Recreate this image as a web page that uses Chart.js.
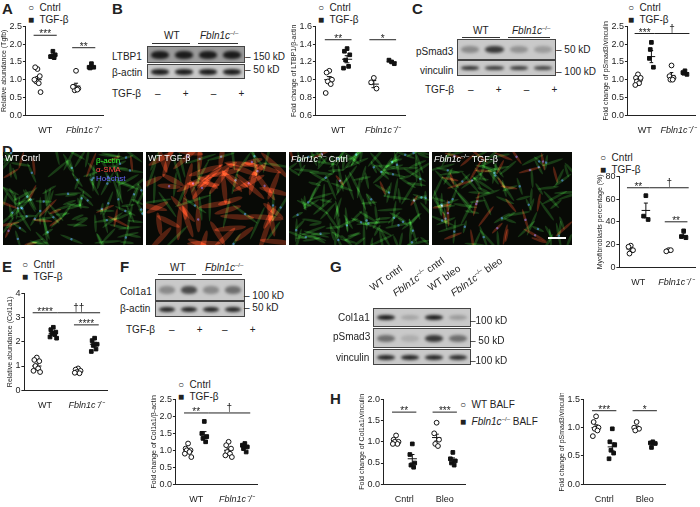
<!DOCTYPE html>
<html><head><meta charset="utf-8">
<script src="https://cdn.jsdelivr.net/npm/chart.js@4"></script>
<style>
body{margin:0;width:700px;height:507px;position:relative;background:#fff;font-family:"Liberation Sans",Arial,sans-serif;overflow:hidden;color:#222}
.a{position:absolute;white-space:nowrap}
.lab{font-weight:bold;font-size:15px}
.t{font-size:10px}
.lg{font-size:10px;line-height:12px}
.blot{position:absolute;border:1px solid #444;background:#c9c9c9;overflow:hidden}
.band{position:absolute;border-radius:45%;filter:blur(1.5px)}
.img{position:absolute;background:#0b0f08;overflow:hidden}
.wrap{position:absolute}
i{font-style:italic}
</style></head><body>
<script>
// ---------- DATA ----------
const xLabelsGeno = ["WT","Fbln1c⁻/⁻"];
const xLabelsTx = ["Cntrl","Bleo"];
// A: Tgfb relative abundance
const aWTc=[1.3,1.35,1.1,0.95,0.9,1.0,0.65], aWTt=[1.8,1.65,1.7,1.65,1.62];
const aKOc=[1.25,0.8,0.75,0.7,0.72,0.8], aKOt=[1.45,1.35,1.35,1.33];
const aMean=[1.0,1.68,0.82,1.36], aSem=[0.09,0.04,0.08,0.03];
// B: LTBP1/β-actin
const bWTc=[1.1,1.08,1.0,0.98,0.95,0.85], bWTt=[1.35,1.32,1.28,1.22,1.15,1.13];
const bKOc=[1.02,0.97,0.9], bKOt=[1.2,1.22,1.18];
const bMean=[1.0,1.23,0.95,1.2], bSem=[0.035,0.04,0.04,0.01];
// C: pSmad3/vinculin
const cWTc=[1.15,1.05,1.0,0.95,0.9,0.85,1.05], cWTt=[2.05,1.6,1.35,1.85];
const cKOc=[1.4,1.1,1.05,1.0,1.0], cKOt=[1.25,1.2,1.15,1.18];
const cMean=[1.0,1.65,1.12,1.2], cSem=[0.04,0.17,0.08,0.03];
// D: Myofibroblasts %
const dWTc=[19,18,15,12], dWTt=[63,45,42];
const dKOc=[15,14,15], dKOt=[32,27,26];
const dMean=[16,50,15,28], dSem=[1.5,6.5,0.4,2];
// E: Col1a1 relative abundance
const eWTc=[1.35,1.25,1.2,1.0,0.9,0.8,0.75], eWTt=[2.6,2.5,2.4,2.35,2.3,2.2,2.15];
const eKOc=[0.9,0.85,0.8,0.75,0.7,0.72], eKOt=[2.15,2.05,1.9,1.85,1.7,1.6];
const eMean=[1.0,2.35,0.78,1.9], eSem=[0.08,0.06,0.03,0.08];
// F: Col1a1/β-actin
const fWTc=[1.2,1.05,1.0,1.0,0.95,0.9,0.8], fWTt=[1.85,1.5,1.4,1.35,1.25];
const fKOc=[1.25,1.15,1.05,0.95,0.9,0.85,0.8], fKOt=[1.2,1.15,1.1,1.05,0.95];
const fMean=[1.0,1.45,1.0,1.1], fSem=[0.05,0.1,0.06,0.04];
// H1: Col1a1/vinculin
const h1WTc=[1.15,1.05,1.0,1.0,0.95,0.95], h1KOc=[0.95,0.7,0.5,0.45,0.4];
const h1WTb=[1.45,1.2,1.05,0.95,0.9], h1KOb=[0.75,0.6,0.55,0.5,0.45];
const h1Mean=[1.0,0.6,1.1,0.57], h1Sem=[0.03,0.1,0.08,0.05];
// H2: pSmad3/vinculin
const h2WTc=[1.2,1.1,1.0,0.98,0.95,0.85], h2KOc=[0.98,0.75,0.7,0.6,0.55,0.45];
const h2WTb=[1.1,1.0,0.98,0.95], h2KOb=[0.75,0.73,0.72,0.65];
const h2Mean=[1.0,0.66,1.0,0.72], h2Sem=[0.05,0.07,0.03,0.02];
</script>

<div class="a lab" style="left:2px;top:0px">A</div>
<div class="a lab" style="left:112px;top:0px">B</div>
<div class="a lab" style="left:412px;top:0px">C</div>
<div class="a lab" style="left:2px;top:142px">D</div>
<div class="a lab" style="left:2px;top:258px">E</div>
<div class="a lab" style="left:120px;top:258px">F</div>
<div class="a lab" style="left:330px;top:258px">G</div>
<div class="a lab" style="left:330px;top:390px">H</div>

<div class="a lg" style="left:28px;top:2px">○&nbsp; Cntrl<br>■&nbsp; TGF-β</div>
<div class="a lg" style="left:318px;top:2px">○&nbsp; Cntrl<br>■&nbsp; TGF-β</div>
<div class="a lg" style="left:628px;top:2px">○&nbsp; Cntrl<br>■&nbsp; TGF-β</div>
<div class="a lg" style="left:600px;top:152px">○&nbsp; Cntrl<br>■&nbsp; TGF-β</div>
<div class="a lg" style="left:22px;top:259px">○&nbsp; Cntrl<br>■&nbsp; TGF-β</div>
<div class="a lg" style="left:178px;top:379px">○&nbsp; Cntrl<br>■&nbsp; TGF-β</div>
<div class="a lg" style="left:460px;top:398px;line-height:14px">○&nbsp; WT BALF<br>■&nbsp; <i>Fbln1c</i><sup style="font-size:6px">–/–</sup> BALF</div>

<!-- B blot -->
<div class="a t" style="left:164px;top:30px">WT</div><div class="a" style="left:152px;top:43px;width:38px;border-top:1px solid #333"></div>
<div class="a t" style="left:200px;top:30px"><i>Fbln1c</i><sup style="font-size:6px">–/–</sup></div><div class="a" style="left:198px;top:43px;width:40px;border-top:1px solid #333"></div>
<div class="a t" style="left:112px;top:51px">LTBP1</div>
<div class="a t" style="left:112px;top:67px">β-actin</div>
<div class="blot" style="left:147px;top:46px;width:96px;height:15px;background:#9a9a9a" id="b1"></div>
<div class="blot" style="left:147px;top:64px;width:96px;height:13px" id="b2"></div>
<div class="a t" style="left:245px;top:51px">– 150 kD</div>
<div class="a t" style="left:245px;top:64px">– 50 kD</div>
<div class="a t" style="left:112px;top:88px">TGF-β&nbsp;&nbsp;&nbsp;&nbsp; –&nbsp;&nbsp;&nbsp;&nbsp;&nbsp;&nbsp;&nbsp; +&nbsp;&nbsp;&nbsp;&nbsp;&nbsp;&nbsp;&nbsp; –&nbsp;&nbsp;&nbsp;&nbsp;&nbsp;&nbsp;&nbsp; +</div>

<!-- C blot -->
<div class="a t" style="left:473px;top:25px">WT</div><div class="a" style="left:462px;top:37px;width:38px;border-top:1px solid #333"></div>
<div class="a t" style="left:512px;top:25px"><i>Fbln1c</i><sup style="font-size:6px">–/–</sup></div><div class="a" style="left:508px;top:37px;width:42px;border-top:1px solid #333"></div>
<div class="a t" style="left:416px;top:46px">pSmad3</div>
<div class="a t" style="left:420px;top:65px">vinculin</div>
<div class="blot" style="left:457px;top:39px;width:97px;height:19px" id="c1"></div>
<div class="blot" style="left:457px;top:60px;width:97px;height:14px" id="c2"></div>
<div class="a t" style="left:556px;top:44px">– 50 kD</div>
<div class="a t" style="left:556px;top:66px">– 100 kD</div>
<div class="a t" style="left:425px;top:84px">TGF-β&nbsp;&nbsp;&nbsp;&nbsp; –&nbsp;&nbsp;&nbsp;&nbsp;&nbsp;&nbsp;&nbsp; +&nbsp;&nbsp;&nbsp;&nbsp;&nbsp;&nbsp;&nbsp; –&nbsp;&nbsp;&nbsp;&nbsp;&nbsp;&nbsp;&nbsp; +</div>

<!-- D images -->
<canvas class="img" style="left:3px;top:152px" width="140" height="93" id="im0"></canvas>
<canvas class="img" style="left:146px;top:152px" width="140" height="93" id="im1"></canvas>
<canvas class="img" style="left:289px;top:152px" width="140" height="93" id="im2"></canvas>
<canvas class="img" style="left:432px;top:152px" width="140" height="93" id="im3"></canvas>
<div class="a" style="left:5px;top:153px;font-size:9px;color:#fff">WT Cntrl</div>
<div class="a" style="left:96px;top:156px;font-size:8px;color:#3f3;line-height:9px">β-actin<br><span style="color:#f44">α-SMA</span><br><span style="color:#66f">Hoechst</span></div>
<div class="a" style="left:148px;top:153px;font-size:9px;color:#fff">WT TGF-β</div>
<div class="a" style="left:291px;top:153px;font-size:9px;color:#fff"><i>Fbln1c</i><sup style="font-size:6px">–/–</sup> Cntrl</div>
<div class="a" style="left:434px;top:153px;font-size:9px;color:#fff"><i>Fbln1c</i><sup style="font-size:6px">–/–</sup> TGF-β</div>
<div class="a" style="left:548px;top:237px;width:18px;border-top:2px solid #fff"></div>

<!-- F blot -->
<div class="a t" style="left:170px;top:262px">WT</div><div class="a" style="left:158px;top:274px;width:38px;border-top:1px solid #333"></div>
<div class="a t" style="left:205px;top:262px"><i>Fbln1c</i><sup style="font-size:6px">–/–</sup></div><div class="a" style="left:202px;top:274px;width:40px;border-top:1px solid #333"></div>
<div class="a t" style="left:120px;top:286px">Col1a1</div>
<div class="a t" style="left:120px;top:303px">β-actin</div>
<div class="blot" style="left:155px;top:279px;width:88px;height:20px" id="f1"></div>
<div class="blot" style="left:155px;top:301px;width:88px;height:14px" id="f2"></div>
<div class="a t" style="left:244px;top:290px">– 100 kD</div>
<div class="a t" style="left:244px;top:302px">– 50 kD</div>
<div class="a t" style="left:126px;top:324px">TGF-β&nbsp;&nbsp;&nbsp;&nbsp; –&nbsp;&nbsp;&nbsp;&nbsp;&nbsp;&nbsp;&nbsp; +&nbsp;&nbsp;&nbsp;&nbsp;&nbsp;&nbsp; –&nbsp;&nbsp;&nbsp;&nbsp;&nbsp;&nbsp;&nbsp; +</div>

<!-- G blot -->
<div class="a t" style="left:374px;top:282px;transform:rotate(-35deg);transform-origin:left bottom">WT cntrl</div>
<div class="a t" style="left:397px;top:287px;transform:rotate(-35deg);transform-origin:left bottom"><i>Fbln1c</i><sup style="font-size:6px">–/–</sup> cntrl</div>
<div class="a t" style="left:432px;top:282px;transform:rotate(-35deg);transform-origin:left bottom">WT bleo</div>
<div class="a t" style="left:455px;top:287px;transform:rotate(-35deg);transform-origin:left bottom"><i>Fbln1c</i><sup style="font-size:6px">–/–</sup> bleo</div>
<div class="a t" style="left:338px;top:312px">Col1a1</div>
<div class="a t" style="left:333px;top:331px">pSmad3</div>
<div class="a t" style="left:336px;top:352px">vinculin</div>
<div class="blot" style="left:373px;top:308px;width:96px;height:17px" id="g1"></div>
<div class="blot" style="left:373px;top:328px;width:96px;height:18px" id="g2"></div>
<div class="blot" style="left:373px;top:349px;width:96px;height:14px" id="g3"></div>
<div class="a t" style="left:470px;top:315px">–100 kD</div>
<div class="a t" style="left:470px;top:335px">– 50 kD</div>
<div class="a t" style="left:470px;top:355px">–100 kD</div>

<div class="wrap" style="left:0;top:20px;width:108px;height:118px"><canvas id="cA"></canvas></div>
<div class="wrap" style="left:290px;top:20px;width:120px;height:118px"><canvas id="cB"></canvas></div>
<div class="wrap" style="left:602px;top:20px;width:98px;height:118px"><canvas id="cC"></canvas></div>
<div class="wrap" style="left:596px;top:170px;width:104px;height:120px"><canvas id="cD"></canvas></div>
<div class="wrap" style="left:6px;top:287px;width:106px;height:126px"><canvas id="cE"></canvas></div>
<div class="wrap" style="left:150px;top:393px;width:112px;height:114px"><canvas id="cF"></canvas></div>
<div class="wrap" style="left:358px;top:393px;width:112px;height:114px"><canvas id="cH1"></canvas></div>
<div class="wrap" style="left:558px;top:393px;width:112px;height:114px"><canvas id="cH2"></canvas></div>

<script>
function bands(id, intens, h){
  const el=document.getElementById(id); const w=el.clientWidth;
  intens.forEach((v,i)=>{const b=document.createElement('div');b.className='band';
    b.style.left=(i*w/4+3)+'px';b.style.width=(w/4-6)+'px';b.style.top=((el.clientHeight-h)/2)+'px';b.style.height=h+'px';
    b.style.background='rgba(20,20,20,'+v+')';el.appendChild(b);});
}
bands('b1',[0.95,0.95,0.95,0.95],8);bands('b2',[0.95,0.95,0.95,0.95],6);
bands('c1',[0.35,0.8,0.3,0.25],7);bands('c2',[0.85,0.8,0.8,0.75],4);
bands('f1',[0.35,0.7,0.35,0.5],8);bands('f2',[0.9,0.9,0.9,0.9],5);
bands('g1',[0.95,0.2,0.95,0.25],5);bands('g2',[0.5,0.15,0.8,0.5],7);bands('g3',[0.9,0.9,0.9,0.85],5);
function h(n){const s=Math.sin(n*127.1+311.7)*43758.5453;return s-Math.floor(s);}
const redFrac=[0.1,0.55,0.06,0.3], cnt=[150,95,170,130];
[0,1,2,3].forEach(k=>{const c=document.getElementById('im'+k).getContext('2d');
  c.fillStyle='#080a06';c.fillRect(0,0,140,93);c.globalCompositeOperation='lighter';
  for(let i=0;i<cnt[k];i++){const s=k*1000+i;const x=h(s)*140,y=h(s+.3)*93,a=h(s+.6)*Math.PI,L=(k===1?11:6)+h(s+.9)*8;
    const red=h(s+.45)<redFrac[k];
    c.save();c.translate(x,y);c.rotate(a);c.fillStyle=red?'rgba(200,60,30,0.38)':'rgba(50,150,45,0.33)';
    c.beginPath();c.ellipse(0,0,L,red&&k===1?2.6:1.3,0,0,Math.PI*2);c.fill();
    if(h(s+.2)<0.25){c.fillStyle='rgba(70,100,230,0.6)';c.beginPath();c.arc(0,0,1.2,0,7);c.fill();}
    c.restore();}
});

const offs=[0,-0.09,0.09,-0.05,0.05,-0.12,0.12];
const bracketPlugin={id:'br',afterDatasetsDraw(ch){
  const o=ch.options.plugins.br; if(!o) return; const c=ch.ctx,x=ch.scales.x,y=ch.scales.y;
  c.save();c.strokeStyle='#222';c.fillStyle='#222';c.lineWidth=1;c.font='10px "Liberation Sans"';c.textAlign='center';
  o.list.forEach(b=>{const yy=y.getPixelForValue(b[2]);c.beginPath();c.moveTo(x.getPixelForValue(b[0]),yy);c.lineTo(x.getPixelForValue(b[1]),yy);c.stroke();
    c.fillText(b[3],(x.getPixelForValue(b[0])+x.getPixelForValue(b[1]))/2,yy-(b[3].indexOf('*')>=0?-2:2));});
  c.restore();}};
Chart.register(bracketPlugin);
function mk(id,groups,means,sems,ymin,ymax,step,ylab,xlabs,brackets,decimals){
  const xs=[0.7,1.3,2.2,2.8], ds=[];
  groups.forEach((g,i)=>{
    const open=i%2===0;
    ds.push({type:'scatter',data:g.map((v,j)=>({x:xs[i]+offs[j%offs.length],y:v})),pointStyle:open?'circle':'rect',
      pointRadius:open?2.4:2.6,borderColor:'#111',backgroundColor:open?'#fff':'#111',borderWidth:1});
    const seg=(pts)=>ds.push({type:'line',data:pts,borderColor:'#111',borderWidth:1,pointRadius:0,showLine:true});
    seg([{x:xs[i]-0.17,y:means[i]},{x:xs[i]+0.17,y:means[i]}]);
    seg([{x:xs[i],y:means[i]-sems[i]},{x:xs[i],y:means[i]+sems[i]}]);
    seg([{x:xs[i]-0.08,y:means[i]+sems[i]},{x:xs[i]+0.08,y:means[i]+sems[i]}]);
    seg([{x:xs[i]-0.08,y:means[i]-sems[i]},{x:xs[i]+0.08,y:means[i]-sems[i]}]);
  });
  new Chart(document.getElementById(id),{data:{datasets:ds},options:{animation:false,responsive:true,maintainAspectRatio:false,
    layout:{padding:{top:2,right:2}},
    plugins:{legend:{display:false},tooltip:{enabled:false},br:{list:brackets}},
    scales:{
      x:{type:'linear',min:0.25,max:3.25,grid:{display:false},border:{color:'#222'},
        afterBuildTicks:a=>{a.ticks=[{value:1},{value:2.5}]},
        ticks:{color:'#222',autoSkip:false,maxRotation:0,padding:2,callback:(v,i)=>xlabs[i],
          font:c=>({family:'Liberation Sans',size:9,style:(xlabs[c.index]||'').startsWith('Fbln')?'italic':'normal'})}},
      y:{min:ymin,max:ymax,grid:{drawOnChartArea:false,tickLength:3,color:'#222'},border:{color:'#222'},
        ticks:{stepSize:step,color:'#222',padding:1,font:{family:'Liberation Sans',size:9},callback:v=>v.toFixed(decimals)},
        title:{display:true,text:ylab,color:'#222',font:{family:'Liberation Sans',size:7},padding:0}}}}});
}
mk('cA',[aWTc,aWTt,aKOc,aKOt],aMean,aSem,0,2.5,0.5,'Relative abundance (Tgfb)',xLabelsGeno,[[0.55,1.45,2.25,'***'],[2.05,2.95,1.9,'**']],1);
mk('cB',[bWTc,bWTt,bKOc,bKOt],bMean,bSem,0.6,1.6,0.2,'Fold change of LTBP1/β-actin',xLabelsGeno,[[0.55,1.45,1.45,'**'],[2.05,2.95,1.45,'*']],1);
mk('cC',[cWTc,cWTt,cKOc,cKOt],cMean,cSem,0,2.5,0.5,'Fold change of pSmad3/vinculin',xLabelsGeno,[[0.55,1.45,2.3,'***'],[1.45,3.0,2.3,'†']],1);
mk('cD',[dWTc,dWTt,dKOc,dKOt],dMean,dSem,0,80,20,'Myofibroblasts percentage (%)',xLabelsGeno,[[0.55,1.45,70,'**'],[1.45,3.0,70,'†'],[2.05,2.95,40,'**']],0);
mk('cE',[eWTc,eWTt,eKOc,eKOt],eMean,eSem,0,4,1,'Relative abundance (Col1a1)',xLabelsGeno,[[0.55,1.45,3.2,'****'],[1.45,3.0,3.2,'††'],[2.05,2.95,2.7,'****']],0);
mk('cF',[fWTc,fWTt,fKOc,fKOt],fMean,fSem,0,2.5,0.5,'Fold change of Col1a1/β-actin',xLabelsGeno,[[0.55,1.45,2.1,'**'],[1.45,3.0,2.1,'†']],1);
mk('cH1',[h1WTc,h1KOc,h1WTb,h1KOb],h1Mean,h1Sem,0,2.0,0.5,'Fold change of Col1a1/vinculin',xLabelsTx,[[0.55,1.45,1.7,'**'],[2.05,2.95,1.7,'***']],1);
mk('cH2',[h2WTc,h2KOc,h2WTb,h2KOb],h2Mean,h2Sem,0,1.5,0.5,'Fold change of pSmad3/vinculin',xLabelsTx,[[0.55,1.45,1.3,'***'],[2.05,2.95,1.3,'*']],1);
</script>
</body></html>
